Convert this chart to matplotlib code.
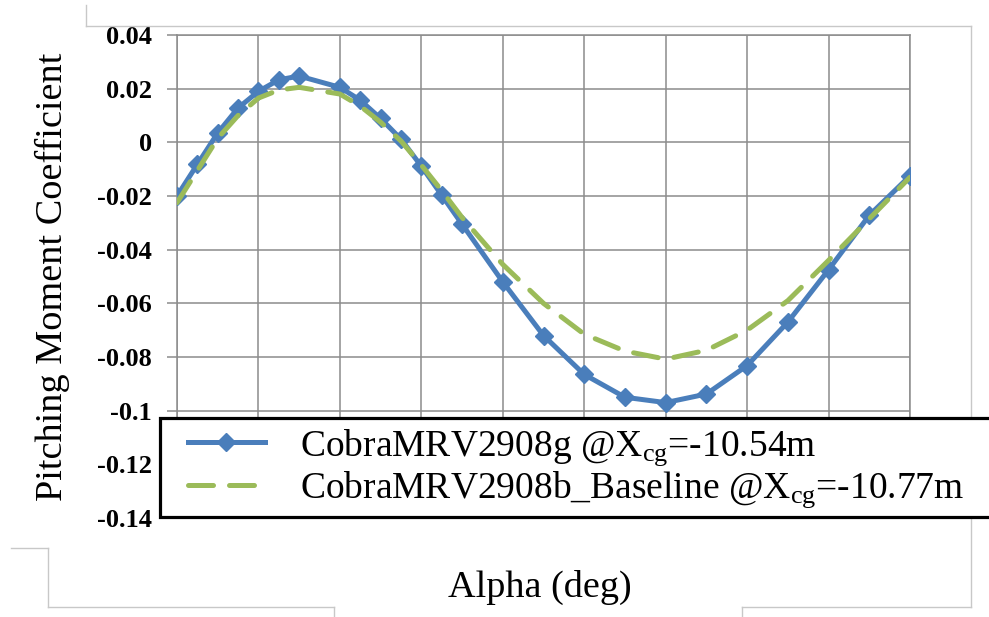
"""Pitching moment coefficient vs alpha for two CobraMRV configurations.

Writes out.png (989x617).
"""
import matplotlib
matplotlib.use("Agg")
import matplotlib.pyplot as plt
from matplotlib.lines import Line2D
from matplotlib.patches import Rectangle

# ---- data
alpha = [-4, -3, -2, -1, 0, 1, 2, 4, 5, 6, 7, 8, 9, 10,
         12, 14, 16, 18, 20, 22, 24, 26, 28, 30, 32]
cm_2908g = [-0.0200, -0.0082, 0.0035, 0.0128, 0.0190, 0.0233, 0.0247,
            0.0205, 0.0157, 0.0089, 0.0012, -0.0089, -0.0197, -0.0305,
            -0.0520, -0.0720, -0.0865, -0.0950, -0.0970, -0.0938,
            -0.0832, -0.0670, -0.0475, -0.0272, -0.0125]
cm_2908b = [-0.0225, -0.0105, 0.0015, 0.0100, 0.0165, 0.0195, 0.0205,
            0.0180, 0.0135, 0.0075, 0.0005, -0.0085, -0.0180, -0.0280,
            -0.0455, -0.0600, -0.0715, -0.0778, -0.0808, -0.0775,
            -0.0700, -0.0590, -0.0440, -0.0285, -0.0130]

label_g = r"CobraMRV2908g @X$_{\mathregular{cg}}$=-10.54m"
label_b = r"CobraMRV2908b_Baseline @X$_{\mathregular{cg}}$=-10.77m"

x_grid = [-4, 0, 4, 8, 12, 16, 20, 24, 28, 32]
y_ticks = [0.04, 0.02, 0, -0.02, -0.04, -0.06, -0.08, -0.1, -0.12, -0.14]
y_ticklabels = ["0.04", "0.02", "0", "-0.02", "-0.04", "-0.06", "-0.08",
                "-0.1", "-0.12", "-0.14"]

BLUE = "#4a7ebb"
GREEN = "#9bbb59"
GRID = "#8c8c8c"
W, H = 989, 617

plt.rcParams["font.family"] = ["Liberation Serif", "DejaVu Serif"]
plt.rcParams["mathtext.fontset"] = "custom"
plt.rcParams["mathtext.rm"] = "Liberation Serif"
plt.rcParams["mathtext.it"] = "Liberation Serif:italic"

fig = plt.figure(figsize=(W / 100, H / 100), dpi=100)
ax = fig.add_axes([177 / W, 99 / H, 733 / W, 483 / H])

ax.plot(alpha, cm_2908g, "-", color=BLUE, linewidth=3.6, marker="D",
        markersize=9.5, markeredgecolor=BLUE, label=label_g, zorder=3)
ax.plot(alpha, cm_2908b, color=GREEN, linewidth=3.6, dashes=(5, 3.2),
        dash_capstyle="round", label=label_b, zorder=4)

ax.set_xlim(-4, 32)
ax.set_ylim(-0.14, 0.04)
ax.set_xticks(x_grid)
ax.set_xticklabels([])
ax.tick_params(axis="x", length=0)
ax.set_yticks(y_ticks)
ax.set_yticklabels(y_ticklabels, fontsize=19, fontweight="bold")
ax.tick_params(axis="y", length=7, width=1.1, color=GRID, pad=11)
ax.grid(True, color=GRID, linewidth=1.1)
ax.set_axisbelow(True)
for side in ["left", "right", "top", "bottom"]:
    ax.spines[side].set_color(GRID)
    ax.spines[side].set_linewidth(1.1)

fig.text(52 / W, 1 - 277 / H, "Pitching Moment Coefficient",
         rotation=90, ha="center", va="center", fontsize=27.5)
fig.text(540 / W, 1 - 587 / H, "Alpha (deg)",
         ha="center", va="center", fontsize=27.5)

# legend box: black frame running off the right edge, as in the original
fig.add_artist(Rectangle((160 / W, 1 - 517 / H), 850 / W, 99 / H,
                         transform=fig.transFigure, facecolor="white",
                         edgecolor="black", linewidth=2.3, zorder=4))
handles, labels = ax.get_legend_handles_labels()
leg = fig.legend(handles, labels, loc="upper left",
                 bbox_to_anchor=(188 / W, 1 - 427 / H), borderaxespad=0,
                 borderpad=0, fontsize=27, handlelength=2.05,
                 handletextpad=0.95, labelspacing=0.05, frameon=False)
leg.set_zorder(5)

# light grey chart-area border pieces from the original screenshot
border = "#c8c8c8"
segments = [
    ([86, 86], [5, 26]), ([86, 971], [26, 26]), ([971, 971], [26, 607]),
    ([742, 971], [607, 607]), ([742, 742], [607, 617]),
    ([11, 48], [548, 548]), ([48, 48], [548, 607]), ([48, 334], [607, 607]),
    ([334, 334], [607, 617]),
]
for xs, ys in segments:
    fig.add_artist(Line2D([x / W for x in xs], [1 - y / H for y in ys],
                          color=border, linewidth=1.0))

fig.savefig("out.png", dpi=100)
